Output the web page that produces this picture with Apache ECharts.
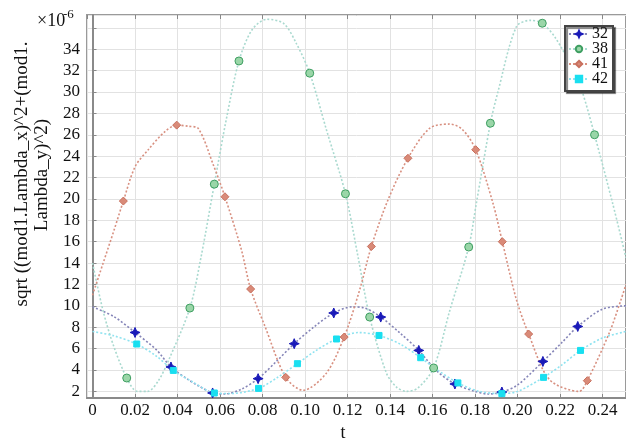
<!DOCTYPE html>
<html>
<head>
<meta charset="utf-8">
<script src="https://cdn.jsdelivr.net/npm/echarts@6/dist/echarts.min.js"></script>
<style>
  html, body { margin: 0; padding: 0; background: #fff; }
  #chart { width: 626px; height: 442px; }
</style>
</head>
<body>
<div id="chart"></div>
<script>
// legend names
var names = ['32', '38', '41', '42']

// curve points [t, value*1e6] and marker points
var s32Line = [[0, 9.9], [0.01, 9.0], [0.03, 5.9], [0.045, 3.1], [0.05, 2.5], [0.062, 1.75], [0.07, 2.2], [0.087, 4.9], [0.104, 8.0], [0.122, 9.9], [0.128, 9.8], [0.145, 7.4], [0.162, 3.9], [0.18, 2.0], [0.186, 1.75], [0.2, 2.6], [0.221, 6.6], [0.24, 9.7], [0.251, 10.0]]
var s32Marks = [[0.0200, 7.51], [0.0369, 4.28], [0.0565, 1.85], [0.0779, 3.19], [0.0949, 6.46], [0.1135, 9.33], [0.1356, 8.95], [0.1535, 5.83], [0.1705, 2.69], [0.1926, 1.94], [0.2119, 4.80], [0.2283, 8.07]]

var s38Line = [[0, 14.0], [0.005, 9.5], [0.01, 6.2], [0.021, 2.0], [0.026, 2.0], [0.031, 3.0], [0.036, 5.0], [0.051, 14.5], [0.063, 27.5], [0.075, 35.8], [0.082, 36.8], [0.09, 36.4], [0.096, 34.5], [0.11, 26.5], [0.125, 14.5], [0.1383, 3.7], [0.143, 2.4], [0.1477, 2.0], [0.153, 2.3], [0.168, 9.5], [0.1806, 19.6], [0.1906, 29.9], [0.1994, 36.1], [0.206, 36.7], [0.218, 35.0], [0.226, 32.1], [0.2306, 29.9], [0.2447, 19.6], [0.251, 14.5]]
var s38Marks = [[0.0161, 3.25], [0.0458, 9.79], [0.0573, 21.38], [0.0689, 32.90], [0.1022, 31.76], [0.1190, 20.48], [0.1304, 8.95], [0.1605, 4.19], [0.1770, 15.50], [0.1872, 27.08], [0.2116, 36.43], [0.2362, 26.00]]

var s41Line = [[0, 11.0], [0.005, 14.0], [0.01, 17.0], [0.02, 23.0], [0.0262, 24.6], [0.0341, 26.3], [0.045, 26.8], [0.0497, 26.6], [0.0568, 23.2], [0.0701, 15.2], [0.0811, 8.1], [0.0991, 2.1], [0.110, 3.7], [0.1257, 11.5], [0.139, 19.9], [0.1586, 26.6], [0.168, 27.0], [0.174, 26.5], [0.1884, 19.6], [0.1994, 10.6], [0.215, 3.1], [0.229, 2.0], [0.2432, 7.5], [0.2487, 10.6], [0.251, 12.0]]
var s41Marks = [[0.0145, 19.8], [0.0396, 26.9], [0.0623, 20.2], [0.0744, 11.57], [0.0909, 3.31], [0.1184, 7.08], [0.1312, 15.55], [0.1484, 23.8], [0.1803, 24.6], [0.1928, 16.0], [0.2052, 7.36], [0.2328, 3.0]]

var s42Line = [[0, 7.6], [0.01, 7.2], [0.03, 5.3], [0.047, 2.9], [0.065, 1.8], [0.087, 3.3], [0.105, 5.8], [0.125, 7.5], [0.145, 6.4], [0.163, 3.9], [0.182, 2.0], [0.2, 2.0], [0.221, 4.5], [0.24, 7.0], [0.251, 7.6]]
var s42Marks = [[0.0208, 6.43], [0.0380, 3.96], [0.0573, 1.85], [0.0781, 2.28], [0.0964, 4.59], [0.1148, 6.90], [0.1348, 7.23], [0.1544, 5.15], [0.1719, 2.79], [0.1926, 1.79], [0.2122, 3.31], [0.2296, 5.83]]

var serif = "'Liberation Serif', 'Times New Roman', serif"
var starPath = 'path://M0,-10 L3,-3 L10,0 L3,3 L0,10 L-3,3 L-10,0 L-3,-3Z'

// merge curve and marker points, markers keep the series symbol
function mergeData (line, marks) {
  var out = []
  line.forEach(function (p) { out.push({value: p, symbol: 'none'}) })
  marks.forEach(function (p) { out.push({value: p}) })
  out.sort(function (a, b) { return a.value[0] - b.value[0] })
  return out
}

function makeSeries (name, line, marks, symbol, size, markColor, markBorder, lineColor) {
  return {
    name: name,
    type: 'line',
    smooth: 0.3,
    showSymbol: true,
    showAllSymbol: true,
    symbol: symbol,
    symbolSize: size,
    itemStyle: {color: markColor, borderColor: markBorder, borderWidth: 1},
    lineStyle: {color: lineColor, width: 1.6, type: [2, 2]},
    emphasis: {disabled: true},
    data: mergeData(line, marks)
  }
}

var chart = echarts.init(document.getElementById('chart'))
var option = {
  animation: false,
  backgroundColor: '#fff',
  grid: {left: 87, right: 0, top: 15, bottom: 44, show: true, borderColor: '#9a9a9a', borderWidth: 2},
  legend: {
    data: names,
    orient: 'vertical',
    left: 565,
    top: 26,
    itemGap: -1,
    itemWidth: 20,
    itemHeight: 8,
    padding: [0, 5, 4, 3],
    backgroundColor: '#fff',
    borderColor: '#444',
    borderWidth: 2,
    shadowColor: 'rgba(0,0,0,0.5)',
    shadowOffsetX: 2,
    shadowOffsetY: 2,
    shadowBlur: 1,
    textStyle: {fontFamily: serif, fontSize: 16, color: '#111', lineHeight: 15, padding: [0, 0, 0, -2]}
  },
  xAxis: [{
    type: 'value',
    min: -0.0026,
    max: 0.251,
    minInterval: 0.02,
    maxInterval: 0.02,
    axisLine: {show: true, lineStyle: {color: '#8a8a8a', width: 2}},
    axisTick: {show: true, inside: true, length: 4, lineStyle: {color: '#888'}},
    axisLabel: {
      margin: 4,
      showMinLabel: false,
      showMaxLabel: false,
      fontFamily: serif,
      fontSize: 17,
      color: '#111',
      formatter: function (v) {
        if (Math.abs(v / 0.02 - Math.round(v / 0.02)) > 1e-6) return ''
        return Math.abs(v) < 1e-9 ? '0' : v.toFixed(2)
      }
    },
    splitLine: {show: true, lineStyle: {color: '#e2e2e2', width: 1}}
  }, {
    type: 'value',
    position: 'top',
    min: -0.0026,
    max: 0.251,
    minInterval: 0.02,
    maxInterval: 0.02,
    axisLine: {show: false},
    axisTick: {show: true, inside: true, length: 4, lineStyle: {color: '#888'}},
    axisLabel: {show: false},
    splitLine: {show: false}
  }],
  yAxis: {
    type: 'value',
    min: 1.38,
    max: 37.2,
    minInterval: 2,
    maxInterval: 2,
    axisLine: {show: true, lineStyle: {color: '#8a8a8a', width: 2}},
    axisTick: {show: true, inside: true, length: 4, lineStyle: {color: '#888'}},
    axisLabel: {
      margin: 7,
      showMinLabel: false,
      showMaxLabel: false,
      fontFamily: serif,
      fontSize: 17,
      color: '#111',
      formatter: function (v) {
        if (Math.abs(v / 2 - Math.round(v / 2)) > 1e-6 || Math.round(v) === 36) return ''
        return String(Math.round(v))
      }
    },
    splitLine: {show: true, lineStyle: {color: '#e2e2e2', width: 1}}
  },
  graphic: [
    {type: 'text', x: 37, y: 21, style: {text: '×10', fontFamily: serif, fontSize: 18, fill: '#111', verticalAlign: 'middle'}},
    {type: 'text', x: 63, y: 15, style: {text: '-6', fontFamily: serif, fontSize: 13, fill: '#111', verticalAlign: 'middle'}},
    {type: 'text', x: 22, y: 174, rotation: Math.PI / 2, style: {text: 'sqrt ((mod1.Lambda_x)^2+(mod1.', fontFamily: serif, fontSize: 19, fill: '#111', align: 'center', verticalAlign: 'middle'}},
    {type: 'text', x: 42, y: 175, rotation: Math.PI / 2, style: {text: 'Lambda_y)^2)', fontFamily: serif, fontSize: 19, fill: '#111', align: 'center', verticalAlign: 'middle'}},
    {type: 'text', x: 343, y: 433, style: {text: 't', fontFamily: serif, fontSize: 18, fill: '#111', align: 'center', verticalAlign: 'middle'}}
  ],
  series: [
    makeSeries('32', s32Line, s32Marks, starPath, 10, '#1a1ab8', '#1a1ab8', '#8585b8'),
    makeSeries('38', s38Line, s38Marks, 'circle', 8, '#9ad6a8', '#3f9f62', '#a9d9cf'),
    makeSeries('41', s41Line, s41Marks, 'diamond', 8, '#d98a78', '#c8705e', '#d89080'),
    makeSeries('42', s42Line, s42Marks, 'rect', 6, '#19dff0', '#19dff0', '#8fe3f0')
  ]
}
chart.setOption(option)
</script>
</body>
</html>
